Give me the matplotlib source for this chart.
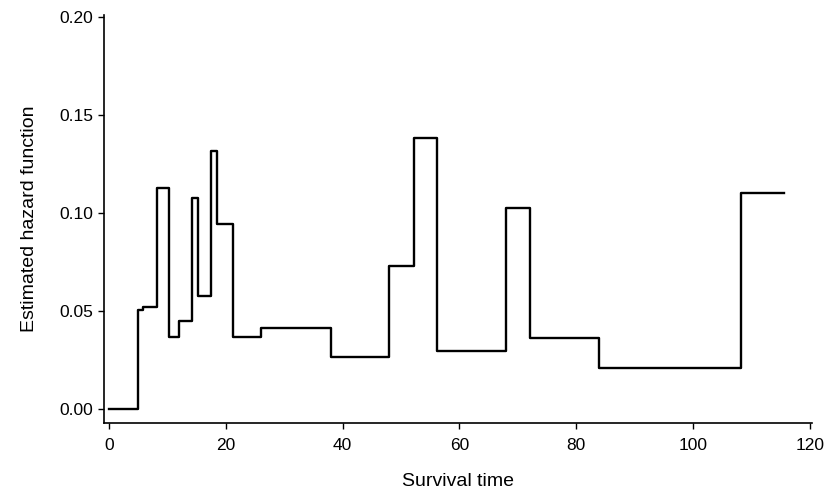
import matplotlib
matplotlib.use("Agg")
import matplotlib.pyplot as plt
import numpy as np

plt.rcParams['font.family'] = ['Liberation Sans', 'DejaVu Sans']

# interval boundaries (survival time) and estimated hazard in each interval
times = [0, 5.0, 5.9, 8.3, 10.3, 12.0, 14.2, 15.3, 17.4, 18.5, 21.3, 26.1,
         38.1, 48.0, 52.3, 56.2, 68.0, 72.1, 83.9, 108.2, 115.6]
hazard = [0.0, 0.0505, 0.0522, 0.1129, 0.0366, 0.0450, 0.1078, 0.0578,
          0.1318, 0.0947, 0.0366, 0.0416, 0.0267, 0.0731, 0.1383, 0.0296,
          0.1027, 0.0361, 0.0209, 0.1104]

xticks = [0, 20, 40, 60, 80, 100, 120]
yticks = [0.00, 0.05, 0.10, 0.15, 0.20]
ytick_labels = ["0.00", "0.05", "0.10", "0.15", "0.20"]

fig = plt.figure(figsize=(8.36, 4.96), dpi=100)
ax = fig.add_axes([104/836, 1 - 423/496, (812 - 104)/836, (423 - 15)/496])

ax.step(times, hazard + [hazard[-1]], where='post', color='black', lw=1.7)

ax.set_xlim(-0.86, 120.4)
ax.set_ylim(-0.0071, 0.2012)
ax.set_xticks(xticks)
ax.set_xticklabels([str(t) for t in xticks])
ax.set_yticks(yticks)
ax.set_yticklabels(ytick_labels)

for s in ['top', 'right']:
    ax.spines[s].set_visible(False)
for s in ['left', 'bottom']:
    ax.spines[s].set_linewidth(1.2)

ax.tick_params(axis='both', direction='out', length=4, width=1.0, labelsize=12.5)
ax.tick_params(axis='x', pad=7)
ax.tick_params(axis='y', pad=4)

ax.set_xlabel("Survival time", fontsize=14, labelpad=14)
ax.set_ylabel("Estimated hazard function", fontsize=14, labelpad=15)

fig.savefig("out.png", dpi=100)
